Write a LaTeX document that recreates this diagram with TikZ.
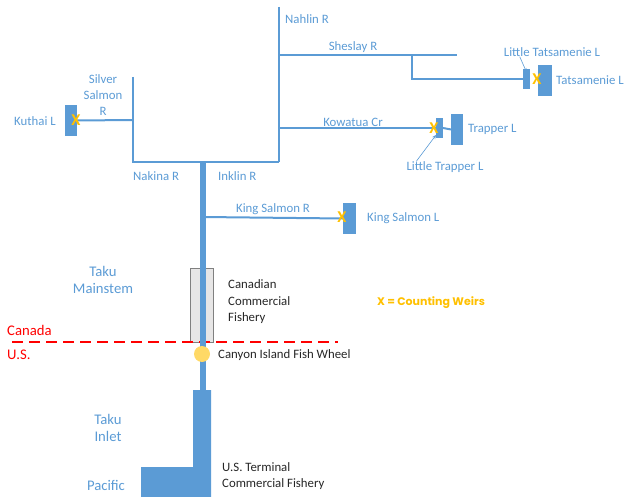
\documentclass[tikz,border=0pt]{standalone}
\usepackage{fontspec}
\setmainfont{Carlito}
\newfontfamily\legendfont{Poppins}
\usetikzlibrary{positioning, arrows.meta}
\definecolor{river}{RGB}{91, 155, 213}
\definecolor{weir}{RGB}{255, 192, 0}
\definecolor{wheel}{RGB}{255, 217, 102}
\definecolor{fishgray}{RGB}{231, 230, 230}
\definecolor{gray50}{gray}{0.5}
\definecolor{ink}{gray}{0.15}

\tikzset{
    stream/.style={draw=river, line width=2pt},
    lake/.style={fill=river, inner sep=0pt, outer sep=0pt},
    place/.style={text=river, font=\fontsize{12.8}{16}\selectfont, align=center, inner sep=0pt},
    region/.style={text=river, font=\fontsize{14.7}{17.5}\selectfont, align=center, inner sep=0pt},
    note/.style={text=ink, font=\fontsize{12.8}{16.5}\selectfont, align=left, inner sep=0pt},
    weirmark/.style={text=weir, font=\fontsize{16.5}{16.5}\selectfont\bfseries, inner sep=0pt},
    pointer/.style={draw=river, line width=0.6pt, -{Stealth[length=4pt, width=3.5pt]}}
}

\begin{document}
\begin{tikzpicture}[x=1pt, y=-1pt]

    \useasboundingbox (0, 0) rectangle (626, 497);

    % junctions
    \coordinate (inklintop) at (279, 7);
    \coordinate (inklinfoot) at (279, 162);
    \coordinate (nakinatop) at (133, 77);
    \coordinate (nakinafoot) at (133, 162);
    \coordinate (silverjn) at (133, 120);
    \coordinate (sheslayjn) at (279, 55);
    \coordinate (sheslayend) at (457, 55);
    \coordinate (tatsjn) at (412, 55);
    \coordinate (tatsbend) at (412, 79);
    \coordinate (kowatuajn) at (279, 128);
    \coordinate (kingjn) at (203, 217);
    \coordinate (trunktop) at (203, 162);
    \coordinate (trunkfoot) at (203, 390);
    \coordinate (borderwest) at (12, 342);
    \coordinate (bordereast) at (338, 342);

    % lakes
    \node[lake, minimum width=12pt, minimum height=31pt] (kuthai) at (71, 120.5) {};
    \node[lake, minimum width=7pt, minimum height=20pt] (littletats) at (526.5, 79) {};
    \node[lake, minimum width=14pt, minimum height=31pt] (tatsamenie) at (545, 80.5) {};
    \node[lake, minimum width=7pt, minimum height=20pt] (littletrap) at (439.5, 128) {};
    \node[lake, minimum width=12pt, minimum height=31pt] (trapper) at (457, 129.5) {};
    \node[lake, minimum width=13pt, minimum height=31pt] (kingsalmon) at (349.5, 218.5) {};

    % rivers
    \draw[stream] (inklintop) -- (inklinfoot);
    \draw[stream] (nakinatop) -- (nakinafoot) -- (inklinfoot);
    \draw[stream] (silverjn) -- (kuthai.east);
    \draw[stream] (sheslayjn) -- (sheslayend);
    \draw[stream] (tatsjn) -- (tatsbend) -- (littletats.west);
    \draw[stream] (kowatuajn) -- (littletrap.west);
    \draw[stream] (littletrap.east) -- (trapper.west);
    \draw[stream] (kingjn) -- (kingsalmon.west);

    % fishery, border and trunk
    \node[draw=gray50, fill=fishgray, line width=0.8pt, minimum width=23pt, minimum height=74pt,
        inner sep=0pt] (canfishery) at (201.5, 305) {};
    \draw[red, line width=2pt, dash pattern=on 11pt off 6pt] (borderwest) -- (bordereast);
    \draw[river, line width=6.5pt] (trunktop) -- (trunkfoot);
    \fill[river] (193, 390) -- (211, 390) -- (211, 497) -- (141, 497) -- (141, 467) -- (193, 467) -- cycle;
    \node[circle, fill=wheel, minimum size=16pt, inner sep=0pt] (fishwheel) at (202, 354) {};

    % weirs
    \foreach \wx/\wy in {76/120, 537/79, 434/128, 342/217} {
            \node[weirmark] (weir\wx) at (\wx, \wy) {X};
        }

    % labels
    \node[place, anchor=west] (nahlin) at (285, 19) {Nahlin R};
    \node[place] (sheslay) at (353, 47) {Sheslay R};
    \node[place] (littletatslabel) at (552, 52) {Little Tatsamenie L};
    \node[place, anchor=west] (tatslabel) at (556, 80) {Tatsamenie L};
    \node[place] (silver) at (103, 95) {Silver\\Salmon\\R};
    \node[place, anchor=west] (kuthailabel) at (14, 121) {Kuthai L};
    \node[place] (kowatua) at (353, 122) {Kowatua Cr};
    \node[place, anchor=west] (trapperlabel) at (468, 129) {Trapper L};
    \node[place] (littletraplabel) at (445, 167) {Little Trapper L};
    \node[place, anchor=west] (nakina) at (133, 176) {Nakina R};
    \node[place, anchor=west] (inklin) at (218, 176) {Inklin R};
    \node[place] (kingriver) at (273, 209) {King Salmon R};
    \node[place, anchor=west] (kinglabel) at (367, 218) {King Salmon L};
    \node[region] (mainstem) at (103, 280) {Taku\\Mainstem};
    \node[note, anchor=west] (canlabel) at (228, 302) {Canadian\\Commercial\\Fishery};
    \node[text=weir, font=\fontsize{11}{13}\selectfont\legendfont\bfseries, inner sep=0pt]
        (legend) at (431, 303) {X = Counting Weirs};
    \node[region, text=red, anchor=west] (canada) at (7, 330) {Canada};
    \node[region, text=red, anchor=west] (us) at (7, 355) {U.S.};
    \node[note, anchor=west] (wheellabel) at (218, 355) {Canyon Island Fish Wheel};
    \node[region] (inlet) at (108, 428) {Taku\\Inlet};
    \node[region] (pacific) at (106, 485) {Pacific};
    \node[note, anchor=west] (uslabel) at (222, 476) {U.S. Terminal\\Commercial Fishery};

    % pointers
    \draw[pointer] ([xshift=16pt]littletatslabel.south west) -- ([yshift=-3pt]littletats.north);
    \draw[pointer] ([xshift=10pt]littletraplabel.north west) -- ([yshift=3pt]littletrap.south west);

\end{tikzpicture}
\end{document}
